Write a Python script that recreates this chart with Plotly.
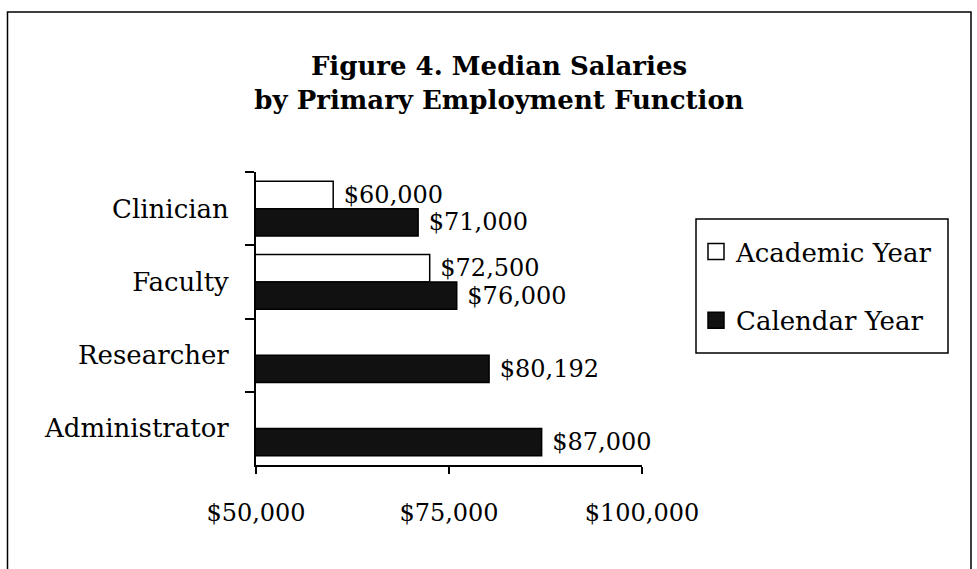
import plotly.graph_objects as go

categories = ["Clinician", "Faculty", "Researcher", "Administrator"]
academic_year = [60000, 72500, None, None]
calendar_year = [71000, 76000, 80192, 87000]
series_names = ["Academic Year", "Calendar Year"]
x_tick_vals = [50000, 75000, 100000]
x_tick_text = ["$50,000", "$75,000", "$100,000"]

FONT = "DejaVu Serif"
W, H = 977, 569
# plot area in page pixels
PX0, PX1, PY0, PY1 = 256, 642, 172, 465
L, R, T, B = PX0, W - PX1, PY0, H - PY1
pw, ph = PX1 - PX0, PY1 - PY0


def px(x):
    return (x - PX0) / pw


def py(y):
    return (PY1 - y) / ph


def fmt(v):
    return None if v is None else "\u00a0$" + format(v, ",")


fig = go.Figure()
fig.add_trace(go.Bar(
    y=categories, x=academic_year, orientation="h", name=series_names[0],
    marker=dict(color="white", line=dict(color="black", width=1.5)),
    text=[fmt(v) for v in academic_year], textposition="outside",
    cliponaxis=False, constraintext="none",
    textfont=dict(family=FONT, size=24, color="black"),
    showlegend=False, hoverinfo="skip",
))
fig.add_trace(go.Bar(
    y=categories, x=calendar_year, orientation="h", name=series_names[1],
    marker=dict(color="#111111", line=dict(color="black", width=1.5)),
    text=[fmt(v) for v in calendar_year], textposition="outside",
    cliponaxis=False, constraintext="none",
    textfont=dict(family=FONT, size=24, color="black"),
    showlegend=False, hoverinfo="skip",
))
# legend entries
for nm, col in zip(series_names, ["white", "#111111"]):
    fig.add_trace(go.Scatter(
        x=[None], y=[None], mode="markers", name=nm, legendgroup=nm,
        marker=dict(symbol="square", size=16, color=col,
                    line=dict(color="black", width=1.5)),
        showlegend=True,
    ))

fig.update_layout(
    width=W, height=H,
    margin=dict(l=L, r=R, t=T, b=B, autoexpand=False),
    paper_bgcolor="white", plot_bgcolor="white",
    font=dict(family=FONT, size=24, color="black"),
    barmode="group", bargap=0.25, bargroupgap=0,
    title=dict(
        text="<b>Figure 4. Median Salaries<br>by Primary Employment Function</b>",
        x=499 / W, xanchor="center", xref="container",
        y=1 - 75 / H, yanchor="top", yref="container",
        font=dict(family=FONT, size=26, color="black"),
    ),
    legend=dict(
        x=px(696), xanchor="left", y=py(228), yanchor="top",
        xref="paper", yref="paper",
        bgcolor="rgba(0,0,0,0)", borderwidth=0,
        font=dict(family=FONT, size=26, color="black"),
        traceorder="grouped", tracegroupgap=32, itemsizing="trace",
    ),
    xaxis=dict(
        range=[50000, 100000], tickvals=x_tick_vals, ticktext=x_tick_text,
        showgrid=False, zeroline=False, showline=True, linecolor="black",
        linewidth=2, ticks="outside", ticklen=7, tickwidth=1.5, tickcolor="black",
        ticklabelstandoff=18, tickfont=dict(family=FONT, size=24),
        fixedrange=True,
    ),
    yaxis=dict(
        autorange="reversed", showgrid=False, zeroline=False, showline=True,
        linecolor="black", linewidth=2, ticks="outside", ticklen=9,
        tickwidth=1.5, tickcolor="black", tickson="boundaries",
        ticklabelstandoff=20, tickfont=dict(family=FONT, size=26),
        fixedrange=True,
    ),
    shapes=[
        dict(type="rect", xref="paper", yref="paper",
             x0=px(7.5), x1=px(971), y0=py(590), y1=py(12),
             line=dict(color="black", width=1.5), fillcolor="rgba(0,0,0,0)",
             layer="below"),
        dict(type="rect", xref="paper", yref="paper",
             x0=px(696), x1=px(948), y0=py(353), y1=py(219),
             line=dict(color="black", width=1.5), fillcolor="white",
             layer="below"),
    ],
)

fig.write_html(
    "out.html",
    config={"displayModeBar": False},
    post_script="document.body.style.margin='0';document.body.style.overflow='hidden';",
)
